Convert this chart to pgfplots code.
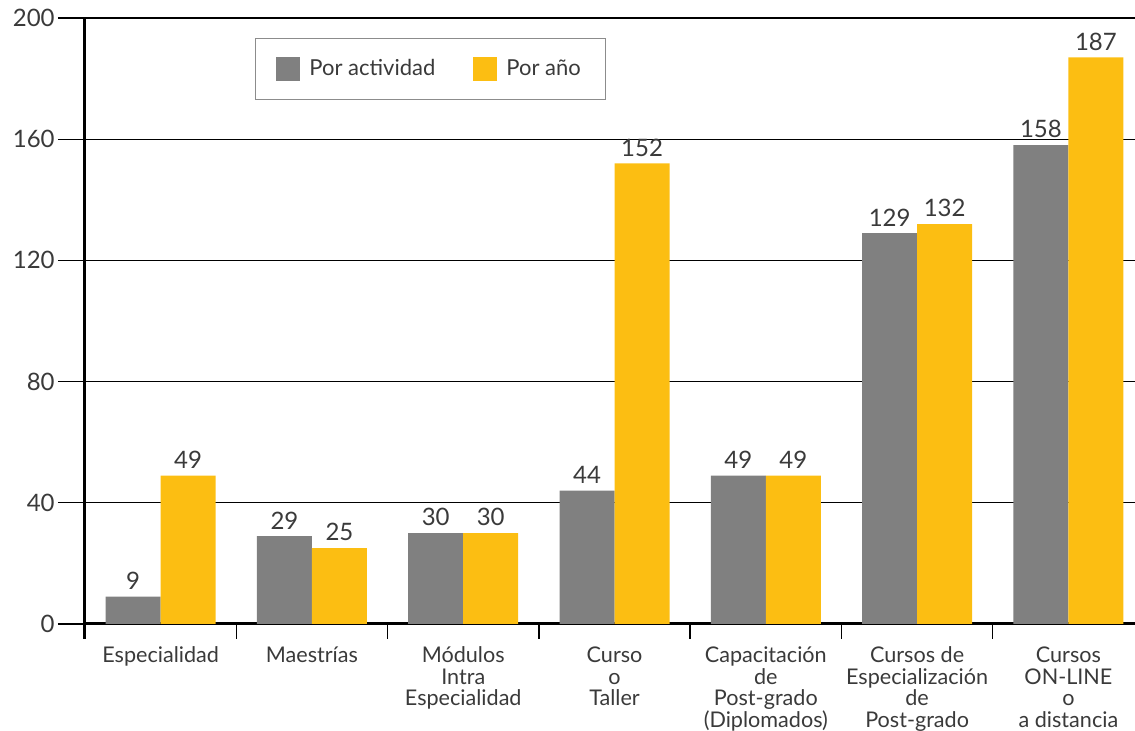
\documentclass[border=0pt]{standalone}
\usepackage{fontspec}
\setmainfont{Lato}
\usepackage{pgfplots}
\pgfplotsset{compat=1.18}
\definecolor{bgray}{HTML}{808080}
\definecolor{byel}{HTML}{FCBE12}
\definecolor{txt}{HTML}{3A3A3A}
\begin{document}
\begin{tikzpicture}
\begin{axis}[
 scale only axis, width=525pt, height=303pt,
 ybar=0pt, bar width=27.5pt,
 xmin=-0.5, xmax=6.44, ymin=0, ymax=200,
 axis x line*=bottom, axis y line*=left,
 axis line style={line width=1.5pt},
 tick align=outside,
 major tick length=7.5pt,
 ytick=\empty,
 extra y ticks={0,40,80,120,160,200},
 extra y tick style={major tick length=13.5pt, grid=major, grid style={black, line width=0.6pt},
   tick style={draw=black, line width=0.6pt}},
 yticklabel style={font=\fontsize{12}{12}\selectfont, text=txt, inner xsep=1.5pt},
 /pgf/number format/assume math mode=true,
 xtick={-0.5,0.5,1.5,2.5,3.5,4.5,5.5}, xticklabels={},
 xtick style={draw=black, line width=0.7pt},
 extra x ticks={0,1,2,3,4,5,6},
 extra x tick labels={Especialidad, Maestrías, Módulos\\Intra\\Especialidad, Curso\\o\\Taller, Capacitación\\de\\Post-grado\\(Diplomados), Cursos de\\Especialización\\de\\Post-grado, Cursos\\ON-LINE\\o\\a distancia},
 extra x tick style={major tick length=0pt, tick style={draw=none}},
 xticklabel style={align=center, font=\fontsize{10.8}{10.75}\selectfont, text=txt, yshift=-8pt},
 nodes near coords,
 every node near coord/.append style={font=\fontsize{12}{12}\selectfont, text=txt},
 legend columns=2,
 legend style={at={(0.1619,0.967)}, anchor=north west, draw=black!45, line width=0.5pt,
   font=\fontsize{11}{11}\selectfont, text=txt, inner xsep=10.5pt, inner ysep=8.5pt,
   /tikz/every even column/.append style={column sep=17pt}},
 legend image code/.code={\path[#1,draw=none] (0pt,-6pt) rectangle (12pt,6pt); \path (14.5pt,0pt);},
]
\addplot[fill=bgray, draw=none] coordinates {(0,9) (1,29) (2,30) (3,44) (4,49) (5,129) (6,158)};
\addplot[fill=byel, draw=none] coordinates {(0,49) (1,25) (2,30) (3,152) (4,49) (5,132) (6,187)};
\legend{Por actividad, Por año}
\end{axis}
\draw[line width=1.5pt] ([yshift=0.75pt]current axis.south west) -- ++(0,-8.25pt);
\pgfresetboundingbox
\useasboundingbox ([shift={(-42.5pt,-53.5pt)}]current axis.south west) rectangle ([shift={(0pt,9pt)}]current axis.north east);
\end{tikzpicture}
\end{document}
